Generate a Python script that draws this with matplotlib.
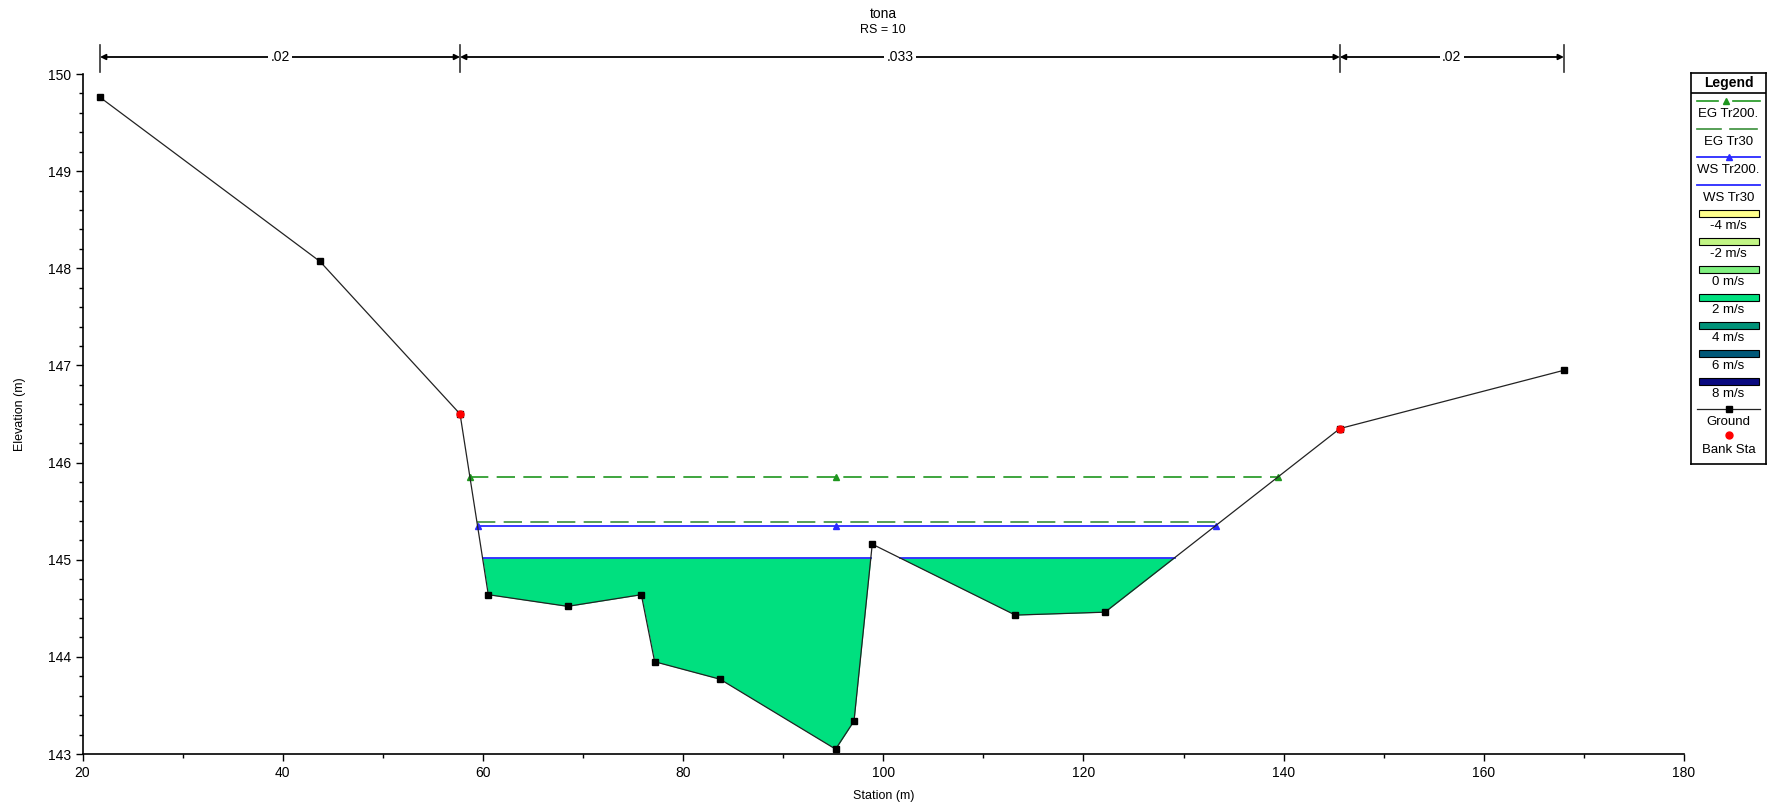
import numpy as np
import matplotlib
matplotlib.use("Agg")
import matplotlib.pyplot as plt
from matplotlib.patches import Rectangle
from matplotlib.transforms import blended_transform_factory

plt.rcParams['font.family'] = ['Liberation Sans', 'DejaVu Sans']

# Ground profile
station = [21.75, 43.73, 57.72, 60.54, 68.47, 75.83, 77.16, 83.69, 95.24,
           97.08, 98.90, 113.19, 122.15, 145.62, 168.0]
elevation = [149.76, 148.07, 146.50, 144.64, 144.52, 144.64, 143.95, 143.77,
             143.05, 143.34, 145.16, 144.43, 144.46, 146.35, 146.95]

bank_sta = [57.72, 145.62]

# water surfaces / energy grades
ws_tr30 = 145.02
ws_tr200 = 145.35
eg_tr30 = 145.39
eg_tr200 = 145.85

# Manning's n
n_sta = [21.75, 57.72, 145.62, 168.0]
n_val = [".02", ".033", ".02"]

leg_labels = ["EG Tr200.", "EG Tr30", "WS Tr200.", "WS Tr30",
              "-4 m/s", "-2 m/s", "0 m/s", "2 m/s", "4 m/s", "6 m/s", "8 m/s",
              "Ground", "Bank Sta"]
vel_colors = ["#FFFF8C", "#C2F585", "#80F080", "#00E07F", "#009278",
              "#005878", "#0A0A80"]

fill_col = "#00E07F"
eg200_col = "#1E961E"
eg30_col = "#3A8F3A"
ws_col = "#2A2AFF"


def wet_segments(x, z, level):
    # find stretches of ground below the water level
    segs = []
    start = None
    for i in range(len(x) - 1):
        x0, x1, z0, z1 = x[i], x[i + 1], z[i], z[i + 1]
        if z0 >= level and z1 < level:
            start = x0 + (z0 - level) / (z0 - z1) * (x1 - x0)
        if z0 < level and z1 >= level and start is not None:
            end = x0 + (level - z0) / (z1 - z0) * (x1 - x0)
            segs.append((start, end))
            start = None
    return segs


fig = plt.figure(figsize=(17.71, 8.08), dpi=100)
L, R, T, B = 82.5, 1684, 74, 754
ax = fig.add_axes([L / 1771, 1 - B / 808, (R - L) / 1771, (B - T) / 808])

x = np.array(station)
z = np.array(elevation)
thalweg = x[np.argmin(z)]

# wetted area for WS Tr30
for s, e in wet_segments(x, z, ws_tr30):
    inside = (x > s) & (x < e)
    xs = np.concatenate([[s], x[inside], [e]])
    zs = np.concatenate([[ws_tr30], z[inside], [ws_tr30]])
    ax.fill_between(xs, zs, ws_tr30, color=fill_col, lw=0, zorder=1)
    ax.plot([s, e], [ws_tr30, ws_tr30], color=ws_col, lw=1.3, zorder=3)

# WS Tr200
segs = wet_segments(x, z, ws_tr200)
s, e = segs[0][0], segs[-1][1]
ax.plot([s, e], [ws_tr200, ws_tr200], color=ws_col, lw=1.3, zorder=3)
ax.plot([s, thalweg, e], [ws_tr200] * 3, ls='none', marker='^', ms=4,
        color=ws_col, zorder=4)

# EG Tr30
segs = wet_segments(x, z, eg_tr30)
s, e = segs[0][0], segs[-1][1]
l, = ax.plot([s, e], [eg_tr30, eg_tr30], color=eg30_col, lw=1.2, zorder=2)
l.set_dashes((11, 5))

# EG Tr200
segs = wet_segments(x, z, eg_tr200)
s, e = segs[0][0], segs[-1][1]
l, = ax.plot([s, e], [eg_tr200, eg_tr200], color=eg200_col, lw=1.2, zorder=2)
l.set_dashes((11, 5))
ax.plot([s, thalweg, e], [eg_tr200] * 3, ls='none', marker='^', ms=4,
        color=eg200_col, zorder=4)

# ground
ax.plot(x, z, color='#222222', lw=0.9, zorder=5)
ax.plot(x, z, ls='none', marker='s', ms=4.5, color='black', zorder=6)
ax.plot(bank_sta, np.interp(bank_sta, x, z), ls='none', marker='o', ms=5,
        color='red', zorder=7)

ax.set_xlim(20, 180)
ax.set_ylim(143, 150)
ax.set_xticks(np.arange(20, 181, 20))
ax.set_xticks(np.arange(20, 181, 10), minor=True)
ax.set_yticks(np.arange(143, 151, 1))
ax.set_yticks(np.arange(143, 150.01, 0.2), minor=True)
ax.tick_params(which='major', length=5, labelsize=10, width=1)
ax.tick_params(which='minor', length=3, width=1)
for side in ['top', 'right']:
    ax.spines[side].set_visible(False)
for side in ['left', 'bottom']:
    ax.spines[side].set_linewidth(1.2)

fig.text((L + R) / 2 / 1771, 1 - 796 / 808, "Station (m)", ha='center',
         va='center', fontsize=9)
fig.text(20 / 1771, 1 - 414 / 808, "Elevation (m)", ha='center',
         va='center', rotation=90, fontsize=9)
fig.text((L + R) / 2 / 1771, 1 - 14 / 808, "tona", ha='center', va='center',
         fontsize=10)
fig.text((L + R) / 2 / 1771, 1 - 30 / 808, "RS = 10", ha='center',
         va='center', fontsize=9)

# Manning's n bars above the plot
tr = blended_transform_factory(ax.transData, fig.transFigure)
yb = 1 - 57 / 808
for xs_ in n_sta:
    ax.plot([xs_, xs_], [1 - 45 / 808, 1 - 72 / 808], color='#333333', lw=1.2,
            transform=tr, clip_on=False)
for i in range(len(n_val)):
    ax.annotate('', xy=(n_sta[i], yb), xytext=(n_sta[i + 1], yb),
                xycoords=tr, textcoords=tr,
                arrowprops=dict(arrowstyle='<|-|>', lw=1.3, color='black',
                                shrinkA=0, shrinkB=0, mutation_scale=8))
    ax.text((n_sta[i] + n_sta[i + 1]) / 2, yb, n_val[i], transform=tr,
            ha='center', va='center', fontsize=10,
            bbox=dict(facecolor='white', edgecolor='none', pad=1.5))

# Legend panel
lt, lb = 73, 463.5
lax = fig.add_axes([1691 / 1771, 1 - lb / 808, 75 / 1771, (lb - lt) / 808])
lax.set_xlim(0, 1)
lax.set_ylim(lb, lt)
lax.set_xticks([])
lax.set_yticks([])
for sp in lax.spines.values():
    sp.set_linewidth(1.2)
lax.text(0.5, 82.5, "Legend", ha='center', va='center', fontsize=10,
         fontweight='bold')
lax.plot([0, 1], [92.5, 92.5], color='black', lw=1.2)

y0 = 101
step = 28
for k, lab in enumerate(leg_labels):
    yy = y0 + k * step
    if k == 0:
        lax.plot([0.08, 0.36], [yy, yy], color=eg200_col, lw=1.2)
        lax.plot([0.56, 0.92], [yy, yy], color=eg200_col, lw=1.2)
        lax.plot([0.46], [yy], marker='^', ms=4, color=eg200_col)
    elif k == 1:
        lax.plot([0.08, 0.40], [yy, yy], color=eg30_col, lw=1.2)
        lax.plot([0.52, 0.88], [yy, yy], color=eg30_col, lw=1.2)
    elif k == 2:
        lax.plot([0.08, 0.92], [yy, yy], color=ws_col, lw=1.3)
        lax.plot([0.5], [yy], marker='^', ms=4, color=ws_col)
    elif k == 3:
        lax.plot([0.08, 0.92], [yy, yy], color=ws_col, lw=1.3)
    elif k <= 10:
        lax.add_patch(Rectangle((0.1, yy - 3.5), 0.8, 7,
                                facecolor=vel_colors[k - 4],
                                edgecolor='black', lw=0.8))
    elif k == 11:
        lax.plot([0.08, 0.92], [yy, yy], color='#222222', lw=0.9)
        lax.plot([0.5], [yy], marker='s', ms=4.5, color='black')
    else:
        lax.plot([0.5], [yy - 2], marker='o', ms=5, color='red')
    lax.text(0.5, yy + 13, lab, ha='center', va='center', fontsize=9.5)

fig.savefig("out.png", dpi=100)
